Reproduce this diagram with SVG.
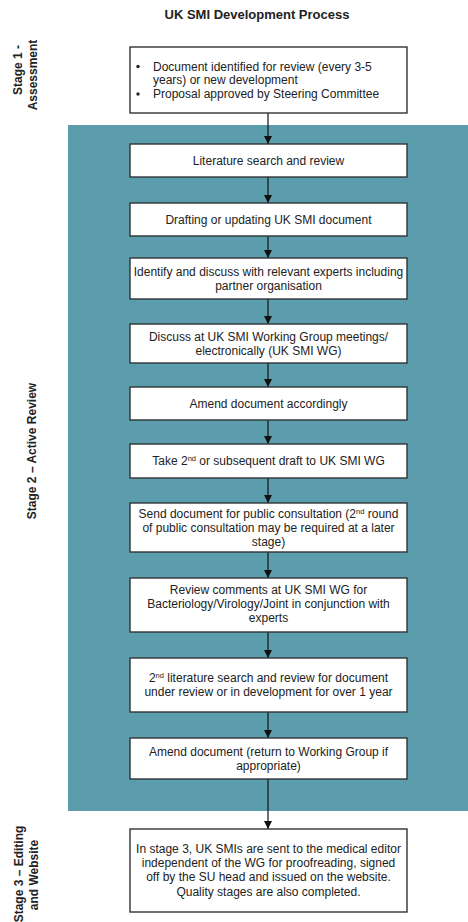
<svg xmlns="http://www.w3.org/2000/svg" width="468" height="922" viewBox="0 0 468 922">
<style>
.box{fill:#fff;stroke:#2f3336;stroke-width:1.4}
.t{font-family:"Liberation Sans",Arial,sans-serif;font-size:12px;fill:#222;text-anchor:middle}
.tl{font-family:"Liberation Sans",Arial,sans-serif;font-size:12px;fill:#222}
.lab{font-family:"Liberation Sans",Arial,sans-serif;font-size:12px;font-weight:bold;fill:#222;text-anchor:middle}
.title{font-family:"Liberation Sans",Arial,sans-serif;font-size:13px;font-weight:bold;fill:#222;text-anchor:middle}
.c{stroke:#111;stroke-width:1.2;fill:none;marker-end:url(#ah)}
.sup{font-size:7.5px}
</style>
<defs>
<marker id="ah" viewBox="0 0 8 10" refX="8" refY="5" markerWidth="8" markerHeight="10" markerUnits="userSpaceOnUse" orient="auto">
<path d="M0,1 L8,5 L0,9 z" fill="#111"/>
</marker>
</defs>
<rect width="468" height="922" fill="#fff"/>
<rect id="stage2-bg" x="68" y="125" width="400" height="686" fill="#5b9dad"/>
<text class="title" x="257" y="19">UK SMI Development Process</text>
<g id="labels">
<text class="lab" transform="translate(22,70) rotate(-90)">Stage 1 -</text>
<text class="lab" transform="translate(37,75) rotate(-90)">Assessment</text>
<text class="lab" transform="translate(36,451) rotate(-90)">Stage 2 – Active Review</text>
<text class="lab" transform="translate(23,874) rotate(-90)">Stage 3 – Editing</text>
<text class="lab" transform="translate(38,875) rotate(-90)">and Website</text>
</g>
<g id="connectors">
<line class="c" x1="268" y1="113" x2="268" y2="144"/>
<line class="c" x1="268" y1="177" x2="268" y2="203"/>
<line class="c" x1="268" y1="236" x2="268" y2="258"/>
<line class="c" x1="268" y1="299" x2="268" y2="324"/>
<line class="c" x1="268" y1="363" x2="268" y2="387"/>
<line class="c" x1="268" y1="420" x2="268" y2="444"/>
<line class="c" x1="268" y1="478" x2="268" y2="503"/>
<line class="c" x1="268" y1="552" x2="268" y2="578"/>
<line class="c" x1="268" y1="632" x2="268" y2="658"/>
<line class="c" x1="268" y1="712" x2="268" y2="738"/>
<line class="c" x1="268" y1="779" x2="268" y2="829"/>
</g>
<g id="n1">
<rect class="box" x="130" y="47" width="277" height="66"/>
<circle cx="138" cy="66.5" r="1.7" fill="#222"/>
<circle cx="138" cy="94" r="1.7" fill="#222"/>
<text class="tl" x="153" y="70.5">Document identified for review (every 3-5</text>
<text class="tl" x="153" y="84">years) or new development</text>
<text class="tl" x="153" y="98">Proposal approved by Steering Committee</text>
</g>
<g id="n2">
<rect class="box" x="130" y="144" width="277" height="33"/>
<text class="t" x="268.5" y="164.5">Literature search and review</text>
</g>
<g id="n3">
<rect class="box" x="130" y="203" width="277" height="33"/>
<text class="t" x="268.5" y="223.5">Drafting or updating UK SMI document</text>
</g>
<g id="n4">
<rect class="box" x="130" y="258" width="277" height="41"/>
<text class="t" x="268.5" y="276">Identify and discuss with relevant experts including</text>
<text class="t" x="268.5" y="290">partner organisation</text>
</g>
<g id="n5">
<rect class="box" x="130" y="324" width="277" height="39"/>
<text class="t" x="268.5" y="341">Discuss at UK SMI Working Group meetings/</text>
<text class="t" x="268.5" y="355">electronically (UK SMI WG)</text>
</g>
<g id="n6">
<rect class="box" x="130" y="387" width="277" height="33"/>
<text class="t" x="268.5" y="408">Amend document accordingly</text>
</g>
<g id="n7">
<rect class="box" x="130" y="444" width="277" height="34"/>
<text class="t" x="268.5" y="465">Take 2<tspan class="sup" dy="-4.5">nd</tspan><tspan dy="4.5"> or subsequent draft to UK SMI WG</tspan></text>
</g>
<g id="n8">
<rect class="box" x="130" y="503" width="277" height="49"/>
<text class="t" x="268.5" y="518">Send document for public consultation (2<tspan class="sup" dy="-4.5">nd</tspan><tspan dy="4.5"> round</tspan></text>
<text class="t" x="268.5" y="532">of public consultation may be required at a later</text>
<text class="t" x="268.5" y="546">stage)</text>
</g>
<g id="n9">
<rect class="box" x="130" y="578" width="277" height="54"/>
<text class="t" x="268.5" y="594">Review comments at UK SMI WG for</text>
<text class="t" x="268.5" y="608">Bacteriology/Virology/Joint in conjunction with</text>
<text class="t" x="268.5" y="622">experts</text>
</g>
<g id="n10">
<rect class="box" x="130" y="658" width="277" height="54"/>
<text class="t" x="268.5" y="682">2<tspan class="sup" dy="-4.5">nd</tspan><tspan dy="4.5"> literature search and review for document</tspan></text>
<text class="t" x="268.5" y="696">under review or in development for over 1 year</text>
</g>
<g id="n11">
<rect class="box" x="130" y="738" width="277" height="41"/>
<text class="t" x="268.5" y="756">Amend document (return to Working Group if</text>
<text class="t" x="268.5" y="770">appropriate)</text>
</g>
<g id="n12">
<rect class="box" x="130" y="829" width="277" height="83"/>
<text class="t" x="268.5" y="853">In stage 3, UK SMIs are sent to the medical editor</text>
<text class="t" x="268.5" y="867">independent of the WG for proofreading, signed</text>
<text class="t" x="268.5" y="881">off by the SU head and issued on the website.</text>
<text class="t" x="268.5" y="896">Quality stages are also completed.</text>
</g>
</svg>
